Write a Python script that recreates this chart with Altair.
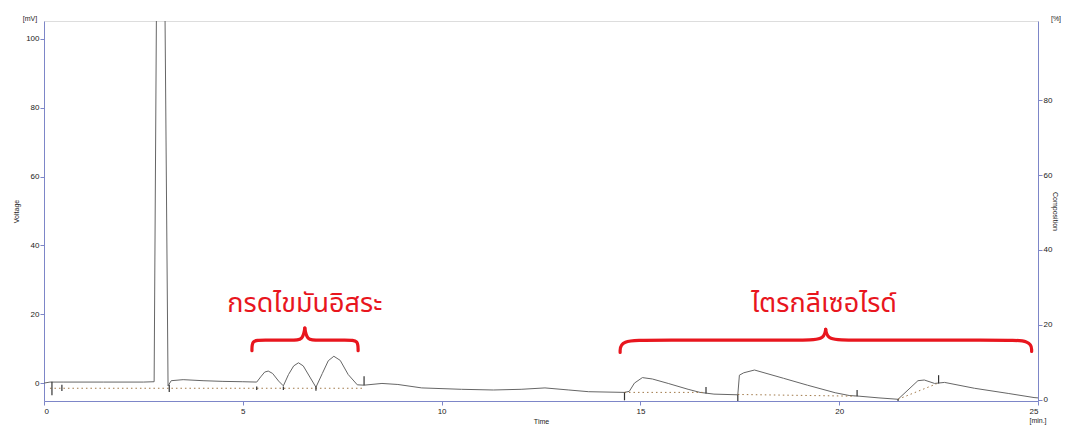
import altair as alt
import pandas as pd

# ---- chromatogram trace (time in min, signal in mV) ----
trace_t = [0.0, 0.15, 0.5, 1.5, 2.5, 2.77, 2.83, 3.04, 3.12, 3.2, 3.5, 4.0, 4.5, 5.0, 5.35,
           5.45, 5.55, 5.64, 5.75, 5.9, 6.02,
           6.15, 6.28, 6.40, 6.52, 6.7, 6.84,
           7.0, 7.15, 7.29, 7.45, 7.65, 7.88,
           8.05, 8.5, 8.9, 9.5, 10.5, 11.3, 12.0, 12.6, 13.2, 13.7, 14.6,
           14.72, 14.85, 15.05, 15.3, 15.7, 16.2, 16.5, 16.85, 17.45,
           17.49, 17.6, 17.87, 18.6, 19.2, 19.9, 20.25, 20.5, 21.0, 21.48,
           21.98, 22.14, 22.4, 22.65, 23.4, 24.25, 24.9, 25.0]
trace_v = [0.0, 0.3, 0.3, 0.3, 0.3, 0.4, 112, 112, -0.8, 0.7, 1.0, 0.7, 0.5, 0.4, 0.3,
           1.8, 3.2, 3.5, 2.8, 0.6, -0.8,
           2.5, 5.0, 5.9, 5.0, 1.5, -1.2,
           2.8, 6.5, 7.8, 6.6, 2.5, -0.5,
           -0.6, -0.1, -0.4, -1.4, -1.8, -2.0, -1.8, -1.4, -2.0, -2.5, -2.7,
           -2.4, 0.0, 1.6, 1.2, -0.1, -1.8, -2.7, -3.2, -3.4,
           2.3, 3.0, 3.8, 1.4, -0.6, -2.8, -3.6, -3.8, -4.3, -4.7,
           0.7, 0.9, -0.1, 0.2, -1.5, -3.0, -4.2, -4.3]

# ---- dotted integration baselines ----
base_t = [0.15, 8.0, 14.6, 16.6, 17.45, 20.4, 21.48, 22.45]
base_v = [-1.5, -1.5, -2.7, -2.7, -3.3, -3.8, -4.7, -0.2]
base_seg = ["a", "a", "b", "b", "c", "c", "d", "d"]

# ---- peak boundary markers ----
mark_t = [0.2, 0.45, 3.15, 5.35, 6.02, 6.84, 8.05, 14.6, 16.65, 17.45, 20.45, 21.48, 22.5]
mark_v1 = [0.4, -0.5, -0.5, -1.0, -1.0, -1.0, -0.6, -2.7, -1.1, -3.4, -2.0, -4.7, -0.1]
mark_v2 = [-3.5, -2.3, -2.6, -2.0, -2.0, -2.2, 2.0, -5.0, -3.0, -5.2, -3.8, -5.2, 2.3]

# ---- annotations ----
label_text = ["กรดไขมันอิสระ", "ไตรกลีเซอไรด์"]
label_t = [6.56, 19.62]
label_v = [23.0, 23.0]

# braces: x0, xc, x1, y_end_left, y_end_right, y_flat, y_cusp, curl, cusp width
brace_x0 = [5.23, 14.49]
brace_xc = [6.56, 19.66]
brace_x1 = [7.90, 24.84]
brace_yl = [9.4, 8.9]
brace_yr = [9.4, 9.2]
brace_yh = [12.5, 12.5]
brace_yc = [16.0, 15.6]
brace_d1 = [0.25, 0.8]
brace_d2 = [0.3, 0.6]

# voltage / composition ticks
volt_ticks = [0, 20, 40, 60, 80, 100]
pct_ticks = [0, 20, 40, 60, 80]
time_ticks = [0, 5, 10, 15, 20, 25]

AX = "#7d86c8"
TRACE = "#666666"
RED = "#e8161e"

trace_df = pd.DataFrame({"t": trace_t, "v": trace_v})
base_df = pd.DataFrame({"t": base_t, "v": base_v, "seg": base_seg})
mark_df = pd.DataFrame({"t": mark_t, "v": mark_v1, "v2": mark_v2})
label_df = pd.DataFrame({"t": label_t, "v": label_v, "label": label_text})

rows = []
for i in range(len(brace_x0)):
    x0, xc, x1 = brace_x0[i], brace_xc[i], brace_x1[i]
    yl, yr, yh, yc = brace_yl[i], brace_yr[i], brace_yh[i], brace_yc[i]
    d1, d2 = brace_d1[i], brace_d2[i]
    left = [(x0, yl), (x0, yh), (x0 + d1, yh), (xc - d2, yh), (xc - 0.05, yh), (xc, yc)]
    right = [(x1, yr), (x1, yh), (x1 - d1, yh), (xc + d2, yh), (xc + 0.05, yh), (xc, yc)]
    for k, (x, y) in enumerate(left):
        rows.append({"t": x, "v": y, "part": f"{i}L", "o": k})
    for k, (x, y) in enumerate(right):
        rows.append({"t": x, "v": y, "part": f"{i}R", "o": k})
brace_df = pd.DataFrame(rows)

xscale = alt.Scale(domain=[0, 25], nice=False, zero=False)
yscale = alt.Scale(domain=[-5.2, 105.2], nice=False, zero=False)
xaxis = alt.Axis(values=time_ticks, title="Time", grid=False, labelFontSize=8, titleFontSize=7,
                 titleFontWeight="normal", tickSize=4, domainColor=AX, tickColor=AX,
                 labelColor="#222", titleColor="#222", labelPadding=2, titlePadding=2)
yaxis = alt.Axis(values=volt_ticks, title="Voltage", grid=False, labelFontSize=8, titleFontSize=7,
                 titleFontWeight="normal", tickSize=4, domainColor=AX, tickColor=AX,
                 labelColor="#222", titleColor="#222", labelPadding=1, titlePadding=6)

X = alt.X("t:Q", scale=xscale, axis=xaxis)
Y = alt.Y("v:Q", scale=yscale, axis=yaxis)

trace = alt.Chart(trace_df).mark_line(color=TRACE, strokeWidth=1, clip=True).encode(
    x=X, y=Y, order="t:Q")

baselines = alt.Chart(base_df).mark_line(color="#a07848", strokeWidth=1, strokeDash=[1.5, 3]).encode(
    x=X, y=Y, detail="seg:N")

markers = alt.Chart(mark_df).mark_rule(color="#333", strokeWidth=1.2).encode(
    x=X, y=Y, y2="v2:Q")

braces = alt.Chart(brace_df).mark_line(color=RED, strokeWidth=3.2, interpolate="basis",
                                       strokeCap="round").encode(
    x=X, y=Y, detail="part:N", order="o:Q")

labels = alt.Chart(label_df).mark_text(color=RED, fontSize=27, font="Tahoma, Noto Sans Thai, sans-serif",
                                       align="center", baseline="middle").encode(
    x=X, y=Y, text="label:N")

units_df = pd.DataFrame({"u": ["[mV]", "[%]", "[min.]"],
                         "px": [-14, 1012, 994], "py": [-2, -2, 400]})
units = alt.Chart(units_df).mark_text(fontSize=7, color="#222", align="center", baseline="middle").encode(
    x=alt.X("px:Q", scale=None), y=alt.Y("py:Q", scale=None), text="u:N")

main = alt.layer(trace, baselines, markers, braces, labels, units)

pct_df = pd.DataFrame({"p": pct_ticks})
pct = alt.Chart(pct_df).mark_point(opacity=0).encode(
    y=alt.Y("p:Q", scale=alt.Scale(domain=[-0.27, 101.07], nice=False, zero=False),
            axis=alt.Axis(orient="right", values=pct_ticks, title="Composition", grid=False,
                          labelFontSize=8, titleFontSize=7, titleFontWeight="normal", tickSize=4,
                          domainColor=AX, tickColor=AX, labelColor="#222", titleColor="#222",
                          labelPadding=1, titlePadding=0)))

chart = alt.layer(main, pct).resolve_scale(y="independent").properties(
    width=994, height=380,
    autosize=alt.AutoSizeParams(type="none"),
    padding={"left": 36, "top": 13, "right": 23, "bottom": 27},
).configure_view(stroke=AX, strokeWidth=1).configure(background="white")

chart.save("out.html", embed_options={"renderer": "svg", "actions": False})
